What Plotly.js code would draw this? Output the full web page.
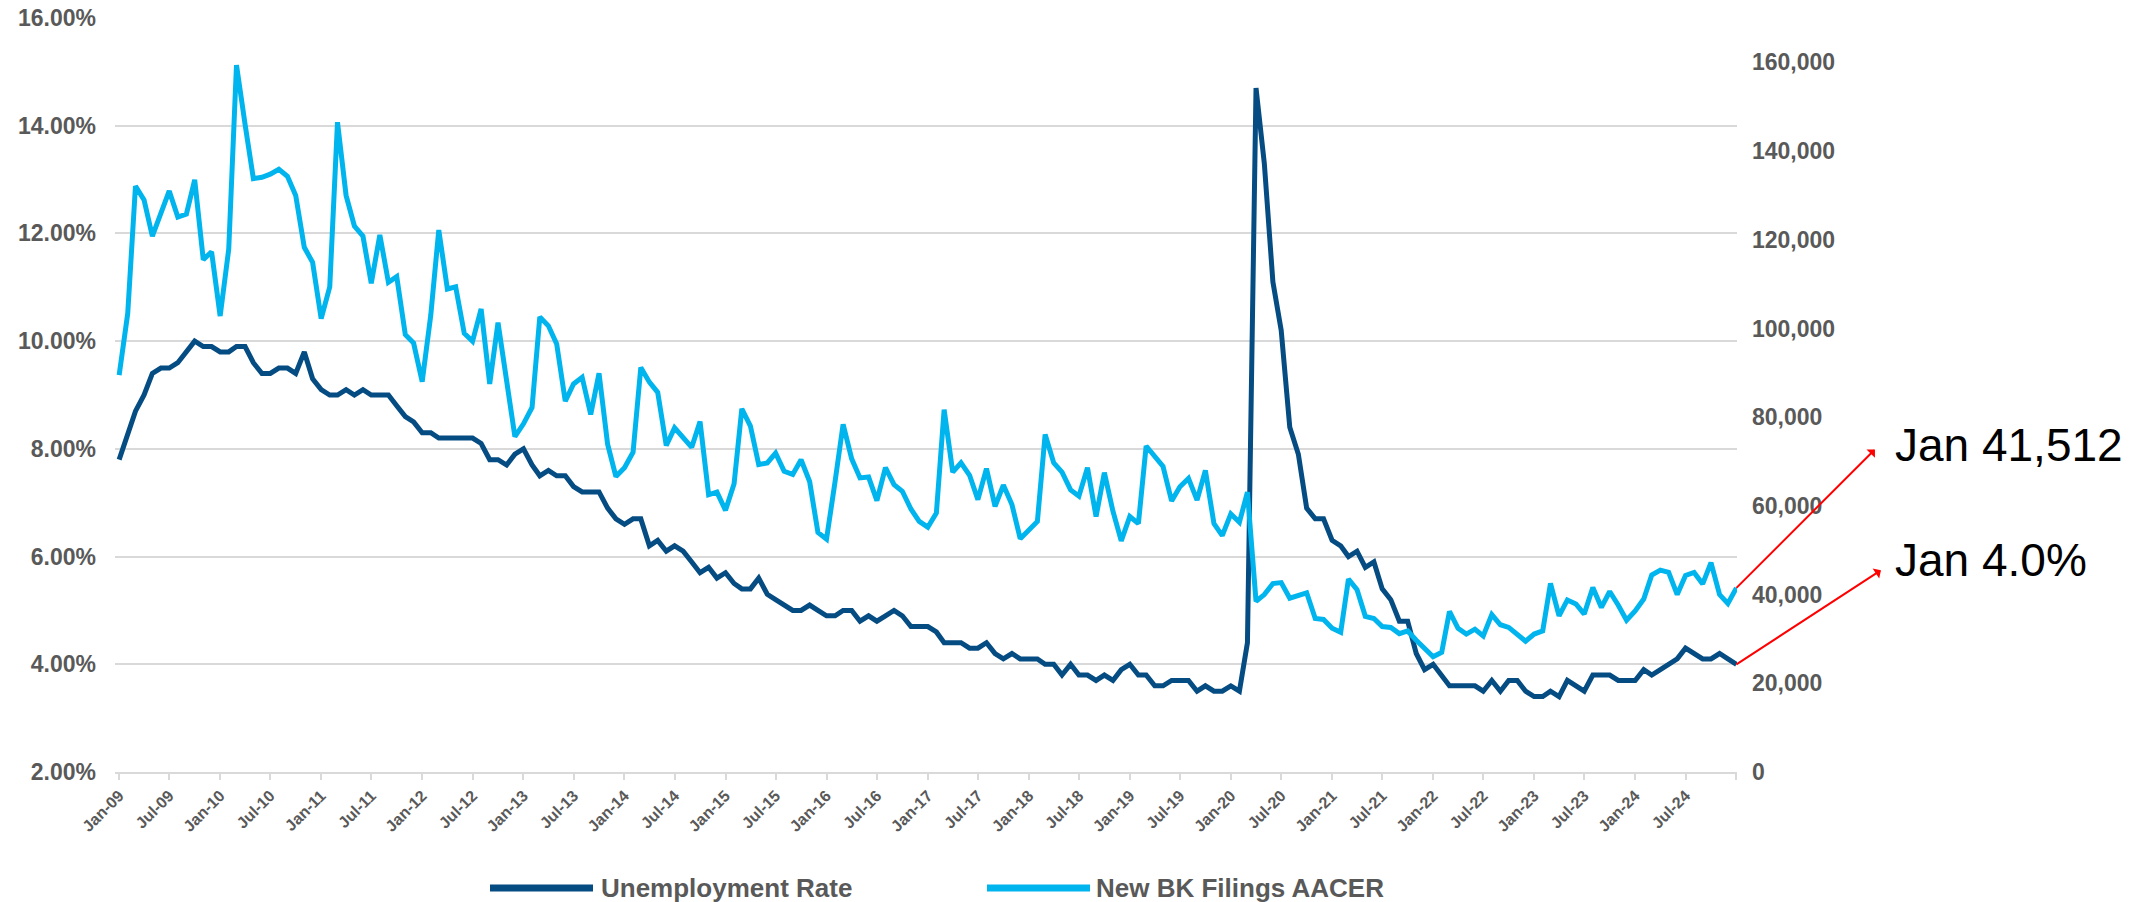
<!DOCTYPE html>
<html>
<head>
<meta charset="utf-8">
<script src="https://cdn.plot.ly/plotly-3.0.1.min.js"></script>
<style>
html,body{margin:0;padding:0;background:#fff;}
#chart{width:2154px;height:902px;}
</style>
</head>
<body>
<div id="chart"></div>
<script>
// Monthly unemployment rate (%), Jan-2009 .. Jan-2025
const unemploymentRate = [
  7.8, 8.3, 8.7, 9.0, 9.4, 9.5, 9.5, 9.6, 9.8, 10.0, 9.9, 9.9,
  9.8, 9.8, 9.9, 9.9, 9.6, 9.4, 9.4, 9.5, 9.5, 9.4, 9.8, 9.3,
  9.1, 9.0, 9.0, 9.1, 9.0, 9.1, 9.0, 9.0, 9.0, 8.8, 8.6, 8.5,
  8.3, 8.3, 8.2, 8.2, 8.2, 8.2, 8.2, 8.1, 7.8, 7.8, 7.7, 7.9,
  8.0, 7.7, 7.5, 7.6, 7.5, 7.5, 7.3, 7.2, 7.2, 7.2, 6.9, 6.7,
  6.6, 6.7, 6.7, 6.2, 6.3, 6.1, 6.2, 6.1, 5.9, 5.7, 5.8, 5.6,
  5.7, 5.5, 5.4, 5.4, 5.6, 5.3, 5.2, 5.1, 5.0, 5.0, 5.1, 5.0,
  4.9, 4.9, 5.0, 5.0, 4.8, 4.9, 4.8, 4.9, 5.0, 4.9, 4.7, 4.7,
  4.7, 4.6, 4.4, 4.4, 4.4, 4.3, 4.3, 4.4, 4.2, 4.1, 4.2, 4.1,
  4.1, 4.1, 4.0, 4.0, 3.8, 4.0, 3.8, 3.8, 3.7, 3.8, 3.7, 3.9,
  4.0, 3.8, 3.8, 3.6, 3.6, 3.7, 3.7, 3.7, 3.5, 3.6, 3.5, 3.5,
  3.6, 3.5, 4.4, 14.7, 13.3, 11.1, 10.2, 8.4, 7.9, 6.9, 6.7, 6.7,
  6.3, 6.2, 6.0, 6.1, 5.8, 5.9, 5.4, 5.2, 4.8, 4.8, 4.2, 3.9,
  4.0, 3.8, 3.6, 3.6, 3.6, 3.6, 3.5, 3.7, 3.5, 3.7, 3.7, 3.5,
  3.4, 3.4, 3.5, 3.4, 3.7, 3.6, 3.5, 3.8, 3.8, 3.8, 3.7, 3.7,
  3.7, 3.9, 3.8, 3.9, 4.0, 4.1, 4.3, 4.2, 4.1, 4.1, 4.2, 4.1,
  4.0
];

// Monthly new bankruptcy filings (AACER), Jan-2009 .. Jan-2025
const newBkFilings = [
  89500, 103400, 132100, 129000, 120800, 125900, 131000, 125100, 125800, 133500, 115500, 117300,
  102800, 117900, 159400, 146000, 133800, 134100, 134800, 135900, 134300, 130000, 118300, 114900,
  102200, 109400, 146500, 130000, 123100, 120800, 110200, 121100, 110400, 111700, 98600, 96700,
  88000, 103000, 122200, 108900, 109400, 98900, 97100, 104400, 87500, 101300, 88200, 75600,
  78500, 82200, 102600, 100600, 96500, 83600, 87500, 89000, 80600, 89900, 73900, 66600,
  68600, 72100, 91200, 87900, 85600, 73600, 77600, 75500, 73200, 79000, 62500, 63100,
  59000, 65000, 81900, 78000, 69300, 69700, 71900, 67800, 67100, 70400, 65500, 54000,
  52500, 65500, 78400, 70600, 66300, 66500, 61200, 68600, 64800, 63300, 59300, 56500,
  55200, 58400, 81700, 67600, 69700, 66900, 61400, 68400, 59900, 64700, 60300, 52600,
  54600, 56500, 76100, 69700, 67600, 63600, 62200, 68600, 57600, 67500, 58800, 52100,
  57600, 56000, 73500, 71200, 68900, 61100, 64300, 66200, 61300, 68000, 56000, 53300,
  58200, 56300, 63100, 38500, 40000, 42500, 42700, 39200, 39700, 40400, 34600, 34400,
  32400, 31500, 43500, 41100, 35100, 34600, 32800, 32600, 31200, 31800, 29700, 27700,
  26000, 27000, 36200, 32400, 31100, 32200, 30700, 35500, 33200, 32600, 31100, 29500,
  31100, 31800, 42500, 35200, 38800, 37900, 35600, 41600, 37100, 40700, 37600, 34200,
  36300, 39000, 44400, 45500, 45000, 40000, 44300, 45000, 42400, 47200, 40000, 38000,
  41512
];

// Month categories (first of each month, Jan-2009 .. Jan-2025)
const months = [];
for (let yr = 2009; yr <= 2025; yr++) {
  for (let mo = 1; mo <= 12; mo++) {
    if (months.length >= unemploymentRate.length) break;
    months.push(yr + '-' + String(mo).padStart(2, '0') + '-01');
  }
}

// X tick positions and labels (every six months)
const xTickVals = [];
const xTickText = [];
for (let yr = 2009; yr <= 2024; yr++) {
  xTickVals.push(yr + '-01-01'); xTickText.push('Jan-' + String(yr % 100).padStart(2, '0'));
  xTickVals.push(yr + '-07-01'); xTickText.push('Jul-' + String(yr % 100).padStart(2, '0'));
}
xTickVals.push('2025-01-01'); xTickText.push('');

const leftTicks = [2, 4, 6, 8, 10, 12, 14, 16];
const leftTickText = leftTicks.map(v => v.toFixed(2) + '%');
const rightTicks = [0, 20000, 40000, 60000, 80000, 100000, 120000, 140000, 160000];
const rightTickText = rightTicks.map(v => v.toLocaleString('en-US'));

const seriesNames = ['Unemployment Rate', 'New BK Filings AACER'];
const darkBlue = '#054c83';
const lightBlue = '#00b4ee';
const grey = '#595959';
const gridGrey = '#d9d9d9';

const lastIdx = months.length - 1;
const calloutBk = 'Jan ' + newBkFilings[lastIdx].toLocaleString('en-US');
const calloutUr = 'Jan ' + unemploymentRate[lastIdx].toFixed(1) + '%';

const FAM = 'Liberation Sans, Arial, sans-serif';
const tickFont = {family: FAM, size: 23, color: grey, weight: 700};

const traces = [
  {
    x: months, y: unemploymentRate, name: seriesNames[0], type: 'scatter', mode: 'lines',
    line: {color: darkBlue, width: 5}, yaxis: 'y', showlegend: false
  },
  {
    x: months, y: newBkFilings, name: seriesNames[1], type: 'scatter', mode: 'lines',
    line: {color: lightBlue, width: 5}, yaxis: 'y2', showlegend: false
  }
];

// plot area in pixels: x 115..1737, y 18..772
const L = 115, R = 1737, T = 18, B = 772;
const W = R - L, H = B - T;
const px = X => (X - L) / W;
const py = Y => (B - Y) / H;

const legendY = py(888);
const legendFont = {family: FAM, size: 26, color: grey, weight: 700};

const layout = {
  width: 2154, height: 902,
  margin: {l: L, r: 2154 - R, t: T, b: 902 - B, pad: 0},
  paper_bgcolor: '#ffffff', plot_bgcolor: '#ffffff',
  showlegend: false,
  hovermode: false,
  xaxis: {
    type: 'date',
    range: ['2008-12-17', '2025-01-03'],
    tickmode: 'array', tickvals: xTickVals, ticktext: xTickText,
    tickangle: -45,
    tickfont: {family: FAM, size: 16, color: grey, weight: 700},
    ticks: 'outside', ticklen: 6, tickwidth: 2, tickcolor: gridGrey,
    showline: true, linecolor: gridGrey, linewidth: 2,
    showgrid: false, zeroline: false
  },
  yaxis: {
    range: [2, 16], tickmode: 'array', tickvals: leftTicks, ticktext: leftTickText,
    tickfont: tickFont, ticklabelstandoff: 18,
    showgrid: true, gridcolor: gridGrey, gridwidth: 2,
    zeroline: false, showline: false, ticks: ''
  },
  yaxis2: {
    overlaying: 'y', side: 'right', anchor: 'x',
    range: [0, 170000], tickmode: 'array', tickvals: rightTicks, ticktext: rightTickText,
    tickfont: tickFont, ticklabelstandoff: 14,
    showgrid: false, zeroline: false, showline: false, ticks: ''
  },
  shapes: [
    {type: 'line', xref: 'paper', yref: 'paper', x0: px(490), x1: px(593), y0: legendY, y1: legendY,
     line: {color: darkBlue, width: 7}},
    {type: 'line', xref: 'paper', yref: 'paper', x0: px(987), x1: px(1090), y0: legendY, y1: legendY,
     line: {color: lightBlue, width: 7}}
  ],
  annotations: [
    {xref: 'paper', yref: 'paper', x: px(599), y: legendY, xanchor: 'left', yanchor: 'middle',
     text: seriesNames[0], showarrow: false, font: legendFont},
    {xref: 'paper', yref: 'paper', x: px(1094), y: legendY, xanchor: 'left', yanchor: 'middle',
     text: seriesNames[1], showarrow: false, font: legendFont},
    // arrows from the last points toward the callouts
    {x: months[lastIdx], y: newBkFilings[lastIdx], xref: 'x', yref: 'y2',
     text: '', showarrow: true, arrowside: 'start', arrowhead: 3, arrowsize: 2.8, arrowwidth: 2,
     arrowcolor: '#ff0000', ax: 140, ay: -140, standoff: 0, startstandoff: 0},
    {x: months[lastIdx], y: unemploymentRate[lastIdx], xref: 'x', yref: 'y',
     text: '', showarrow: true, arrowside: 'start', arrowhead: 3, arrowsize: 2.8, arrowwidth: 2,
     arrowcolor: '#ff0000', ax: 146, ay: -95, standoff: 0, startstandoff: 0},
    {xref: 'paper', yref: 'paper', x: px(1893), y: py(445), xanchor: 'left', yanchor: 'middle',
     text: calloutBk, showarrow: false,
     font: {family: FAM, size: 46, color: '#000000'}},
    {xref: 'paper', yref: 'paper', x: px(1893), y: py(560), xanchor: 'left', yanchor: 'middle',
     text: calloutUr, showarrow: false,
     font: {family: FAM, size: 46, color: '#000000'}}
  ]
};

Plotly.newPlot('chart', traces, layout, {staticPlot: true, displayModeBar: false});
</script>
</body>
</html>
